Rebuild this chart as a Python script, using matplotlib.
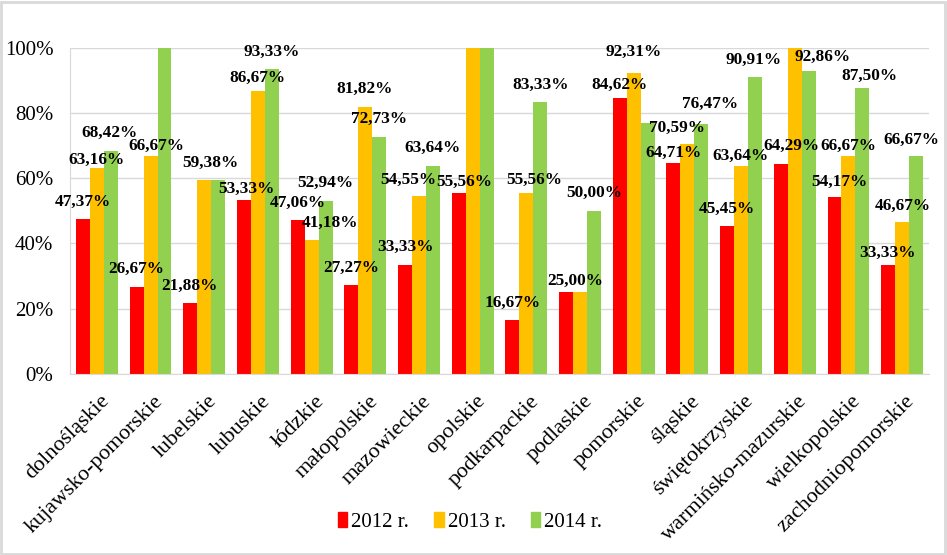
import matplotlib
matplotlib.use("Agg")
import matplotlib.pyplot as plt
import matplotlib.patches as mpatches
from matplotlib.ticker import FuncFormatter
import matplotlib.transforms as mtransforms
import numpy as np

categories = ["dolnośląskie", "kujawsko-pomorskie", "lubelskie", "lubuskie", "łódzkie",
              "małopolskie", "mazowieckie", "opolskie", "podkarpackie", "podlaskie",
              "pomorskie", "śląskie", "świętokrzyskie", "warmińsko-mazurskie",
              "wielkopolskie", "zachodniopomorskie"]
series_names = ["2012 r.", "2013 r.", "2014 r."]
v2012 = [47.37, 26.67, 21.88, 53.33, 47.06, 27.27, 33.33, 55.56, 16.67, 25.00,
         84.62, 64.71, 45.45, 64.29, 54.17, 33.33]
v2013 = [63.16, 66.67, 59.38, 86.67, 41.18, 81.82, 54.55, 100.0, 55.56, 25.00,
         92.31, 70.59, 63.64, 100.0, 66.67, 46.67]
v2014 = [68.42, 100.0, 59.38, 93.33, 52.94, 72.73, 63.64, 100.0, 83.33, 50.00,
         76.92, 76.47, 90.91, 92.86, 87.50, 66.67]
colors = ["#FF0000", "#FFC000", "#92D050"]

# labelled bars: (category index, series index, dx px, dy px above bar top)
label_spec = [
    (0, 0, 0, 18), (0, 1, 0, 8), (0, 2, -1, 18),
    (1, 0, 0, 18), (1, 1, 6, 10.5),
    (2, 0, -1, 17), (2, 1, 6.5, 17.5),
    (3, 0, 2, 11), (3, 1, 0, 13), (3, 2, 0, 18),
    (4, 0, 0, 18), (4, 1, 18, 17), (4, 2, 0, 18),
    (5, 0, 0, 17), (5, 1, -1, 18), (5, 2, 0, 18),
    (6, 0, 0, 18), (6, 1, -11, 16), (6, 2, 0, 18),
    (7, 0, 6, 11),
    (8, 0, 0, 17), (8, 1, 8, 13), (8, 2, 0, 17),
    (9, 0, 9, 12), (9, 2, 0, 17.5),
    (10, 0, 0, 13), (10, 1, 0, 21),
    (11, 0, 0, 10), (11, 1, -10, 16), (11, 2, 8.5, 20.5),
    (12, 0, 0, 17), (12, 1, -1, 10), (12, 2, -1, 17),
    (13, 0, 11, 18), (13, 2, 14, 14),
    (14, 0, 5, 15.5), (14, 1, 0, 10.5), (14, 2, 7, 12.5),
    (15, 0, -1, 12.5), (15, 1, 1, 16), (15, 2, -5, 17),
]

serif = ["Liberation Serif", "DejaVu Serif"]
plt.rcParams["font.family"] = serif

fig = plt.figure(figsize=(9.47, 5.55), dpi=100)
ax = fig.add_axes([70 / 947, 1 - 374 / 555, 859 / 947, (374 - 47.7) / 555])

data = [v2012, v2013, v2014]
x = np.arange(len(categories))
w = 0.26
for i, vals in enumerate(data):
    ax.bar(x + (i - 1) * w, vals, width=w, color=colors[i], label=series_names[i], zorder=2)

def fmt(v):
    return ("%.2f" % v).replace(".", ",") + "%"

for ci, si, dx, dy in label_spec:
    val = data[si][ci]
    xc = x[ci] + (si - 1) * w
    ax.annotate(fmt(val), xy=(xc, val), xytext=(dx, dy), textcoords="offset pixels",
                ha="center", va="center", fontsize=12.4, fontweight="bold",
                family=serif, color="black", annotation_clip=False, zorder=5)

ax.set_xlim(-0.5, len(categories) - 0.5)
ax.set_ylim(0, 100)
ax.set_yticks([0, 20, 40, 60, 80, 100])
ax.yaxis.set_major_formatter(FuncFormatter(lambda v, p: "%d%%" % v))
ax.grid(axis="y", color="#D9D9D9", linewidth=1, zorder=0)
ax.set_axisbelow(True)
for s in ["top", "right"]:
    ax.spines[s].set_visible(False)
ax.spines["left"].set_color("#D9D9D9")
ax.spines["bottom"].set_color("#D9D9D9")
ax.tick_params(axis="y", length=0, pad=12, labelsize=15)
ax.tick_params(axis="x", length=0, pad=2)

ax.set_xticks(x)
ax.set_xticklabels(categories, rotation=45, ha="right", rotation_mode="anchor",
                   fontsize=16)
offset = mtransforms.ScaledTranslation(3 / 100, -15 / 100, fig.dpi_scale_trans)
for lbl in ax.get_xticklabels():
    lbl.set_transform(lbl.get_transform() + offset)

fig.legend(handles=[mpatches.Patch(color=c, label=n) for c, n in zip(colors, series_names)],
           loc="center", bbox_to_anchor=(470 / 947, 1 - 522 / 555), ncol=3, frameon=False,
           fontsize=15, handlelength=0.45, handleheight=0.75, handletextpad=0.2,
           columnspacing=1.2)

fig.patches.append(mpatches.Rectangle((0.001, 0.002), 0.997, 0.995, transform=fig.transFigure,
                                      fill=False, edgecolor="#D9D9D9", linewidth=2))

fig.savefig("out.png", dpi=100)
